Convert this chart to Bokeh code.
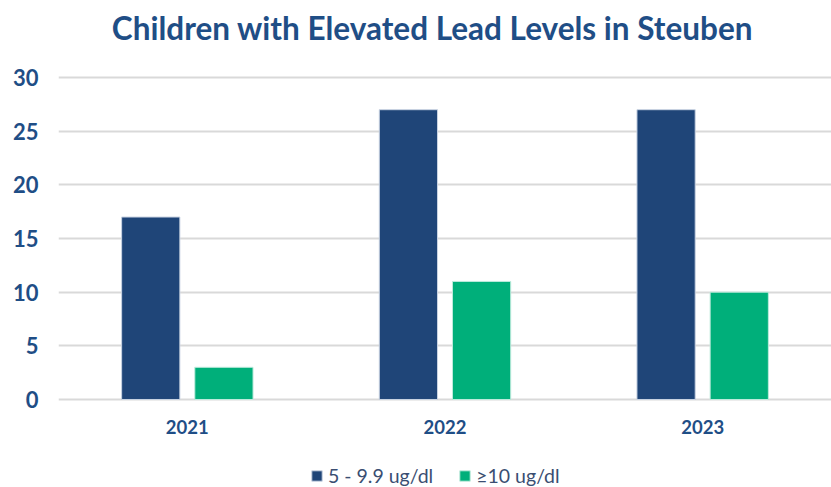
from bokeh.plotting import figure
from bokeh.models import ColumnDataSource, Range1d, FactorRange, Legend, LegendItem, Label
from bokeh.transform import dodge
from bokeh.embed import file_html
from bokeh.resources import INLINE

years = ["2021", "2022", "2023"]
low_levels = [17, 27, 27]
high_levels = [3, 11, 10]
series_labels = ["5 - 9.9 ug/dl", "\u226510 ug/dl"]
y_ticks = [0, 5, 10, 15, 20, 25, 30]
title_text = "Children with Elevated Lead Levels in Steuben"

BLUE = "#1F4578"
GREEN = "#00AF7A"
TITLE_C = "#1F4E86"
FONT = "Lato"

src = ColumnDataSource(dict(year=years, low=low_levels, high=high_levels))

# frame covers the whole picture height; y=0 sits 88px above the bottom, y=30 at 77px from top
p = figure(frame_width=773, frame_height=487, x_range=FactorRange(*years), y_range=Range1d(-8.2, 37.174),
           output_backend="svg", toolbar_location=None,
           min_border_left=58, min_border_right=0, min_border_top=0, min_border_bottom=0)

r1 = p.vbar(x=dodge("year", -0.142, range=p.x_range), top="low", width=0.226, source=src,
            fill_color=BLUE, line_color="#C9D3E2", line_width=1)
r2 = p.vbar(x=dodge("year", 0.142, range=p.x_range), top="high", width=0.226, source=src,
            fill_color=GREEN, line_color="#BFEBDD", line_width=1)

p.x_range.range_padding = 0
p.outline_line_color = None
p.xgrid.grid_line_color = None
p.ygrid.grid_line_color = "#D9D9D9"
p.ygrid.grid_line_width = 2
p.yaxis.ticker = y_ticks
p.xaxis.fixed_location = 0

for ax in (p.xaxis[0], p.yaxis[0]):
    ax.axis_line_color = None
    ax.major_tick_line_color = None
    ax.minor_tick_line_color = None
    ax.major_tick_out = 0
    ax.major_tick_in = 0
    ax.minor_tick_out = 0
    ax.major_label_text_font = FONT
    ax.major_label_text_font_style = "bold"
    ax.major_label_text_color = TITLE_C

p.yaxis.major_label_text_font_size = "22px"
p.yaxis.major_label_standoff = 20
p.xaxis.major_label_text_font_size = "18.5px"
p.xaxis.major_label_standoff = 21

title = Label(x=374, y=460, x_units="screen", y_units="screen", text=title_text,
              text_font=FONT, text_font_size="31.5px", text_font_style="bold",
              text_color=TITLE_C, text_align="center", text_baseline="middle")
p.add_layout(title)

legend = Legend(items=[LegendItem(label=series_labels[0], renderers=[r1]),
                       LegendItem(label=series_labels[1], renderers=[r2])],
                orientation="horizontal", location=(252, 0),
                label_text_font=FONT, label_text_font_size="19.5px", label_text_color="#3A4E72",
                glyph_width=13, glyph_height=13, spacing=25, label_standoff=5,
                border_line_color=None, background_fill_alpha=0, margin=0, padding=2)
p.add_layout(legend, "center")

open("out.html", "w").write(file_html(p, INLINE))
